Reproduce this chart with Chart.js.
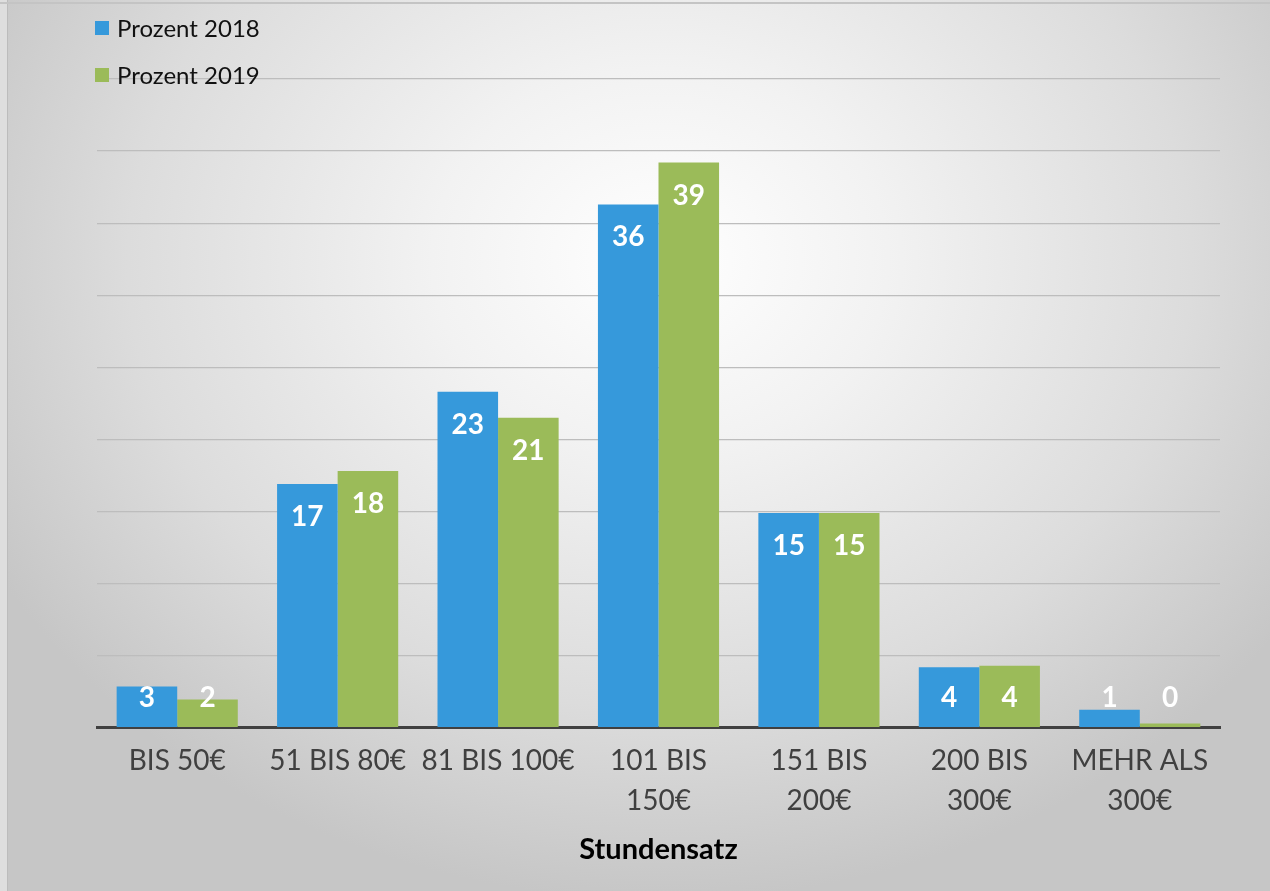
<!DOCTYPE html>
<html>
<head>
<meta charset="utf-8">
<script src="https://cdn.jsdelivr.net/npm/chart.js@4"></script>
<style>
  html, body { margin: 0; padding: 0; }
  body { width: 1270px; height: 891px; overflow: hidden; }
  #wrap {
    position: relative; width: 1270px; height: 891px;
    background: radial-gradient(ellipse 760px 640px at 660px 260px, #ffffff 0%, #f2f2f2 30%, #dcdcdc 70%, #c6c6c6 100%);
  }
  #frame { position: absolute; left: 0; top: 0; width: 7px; height: 891px; background: #dedede; border-right: 1px solid #bcbcbc; }
  #topline { position: absolute; left: 0; top: 2px; width: 1270px; height: 2px; background: #c4c4c4; }
  #legend { position: absolute; left: 95px; top: 4px; font-family: Lato, sans-serif; font-size: 24px; color: #111; }
  .item { height: 47px; display: flex; align-items: center; }
  .box { width: 14px; height: 14px; margin-right: 8px; }
  canvas { position: absolute; left: 0; top: 0; }
</style>
</head>
<body>
<div id="wrap">
  <div id="frame"></div>
  <div id="topline"></div>
  <canvas id="chart" width="1270" height="891"></canvas>
  <div id="legend"></div>
</div>
<script>
var categories = [["BIS 50€"], ["51 BIS 80€"], ["81 BIS 100€"], ["101 BIS", "150€"], ["151 BIS", "200€"], ["200 BIS", "300€"], ["MEHR ALS", "300€"]];
// bar heights
var values2018 = [2.85, 16.9, 23.3, 36.3, 14.9, 4.2, 1.25];
var values2019 = [1.95, 17.8, 21.5, 39.2, 14.9, 4.3, 0.3];
// numbers printed on the bars
var labels2018 = [3, 17, 23, 36, 15, 4, 1];
var labels2019 = [2, 18, 21, 39, 15, 4, 0];
var seriesNames = ["Prozent 2018", "Prozent 2019"];
var seriesColors = ["#3699db", "#9bbb59"];

var legendDiv = document.getElementById("legend");
for (let i = 0; i < seriesNames.length; i++) {
    var item = document.createElement("div");
    item.className = "item";
    var box = document.createElement("span");
    box.className = "box";
    box.style.background = seriesColors[i];
    item.appendChild(box);
    item.appendChild(document.createTextNode(seriesNames[i]));
    legendDiv.appendChild(item);
}

var barLabels = {
    id: "barLabels",
    afterDatasetsDraw: function(chart) {
        var ctx = chart.ctx;
        var base = chart.scales.y.getPixelForValue(0);
        var shown = [labels2018, labels2019];
        ctx.save();
        ctx.font = "bold 28px Lato, sans-serif";
        ctx.fillStyle = "#ffffff";
        ctx.textAlign = "center";
        ctx.textBaseline = "middle";
        chart.data.datasets.forEach(function(ds, d) {
            chart.getDatasetMeta(d).data.forEach(function(bar, i) {
                var y = Math.min(bar.y + 33, base - 30);
                ctx.fillText(String(shown[d][i]), bar.x, y);
            });
        });
        ctx.restore();
    }
};

new Chart(document.getElementById("chart"), {
    type: "bar",
    data: {
        labels: categories,
        datasets: [
            { label: seriesNames[0], data: values2018, backgroundColor: seriesColors[0] },
            { label: seriesNames[1], data: values2019, backgroundColor: seriesColors[1] }
        ]
    },
    options: {
        responsive: false,
        animation: false,
        devicePixelRatio: 1,
        layout: { padding: { left: 97, right: 50, top: 79, bottom: 25 } },
        datasets: { bar: { categoryPercentage: 0.755, barPercentage: 1 } },
        plugins: { legend: { display: false }, tooltip: { enabled: false } },
        scales: {
            x: {
                grid: { display: false, drawTicks: false },
                border: { display: true, color: "#404040", width: 3 },
                ticks: { color: "#404040", font: { family: "Lato, sans-serif", size: 28, lineHeight: 1.4 }, padding: 14, maxRotation: 0, autoSkip: false },
                title: { display: true, text: "Stundensatz", color: "#000", font: { family: "Lato, sans-serif", size: 29, weight: "bold", lineHeight: 1.1 }, padding: { top: 0, bottom: 0 } }
            },
            y: {
                min: 0, max: 45,
                ticks: { display: false, stepSize: 5 },
                grid: { color: "#bdbdbd", lineWidth: 1.3, drawTicks: false },
                border: { display: false }
            }
        }
    },
    plugins: [barLabels]
});
</script>
</body>
</html>
